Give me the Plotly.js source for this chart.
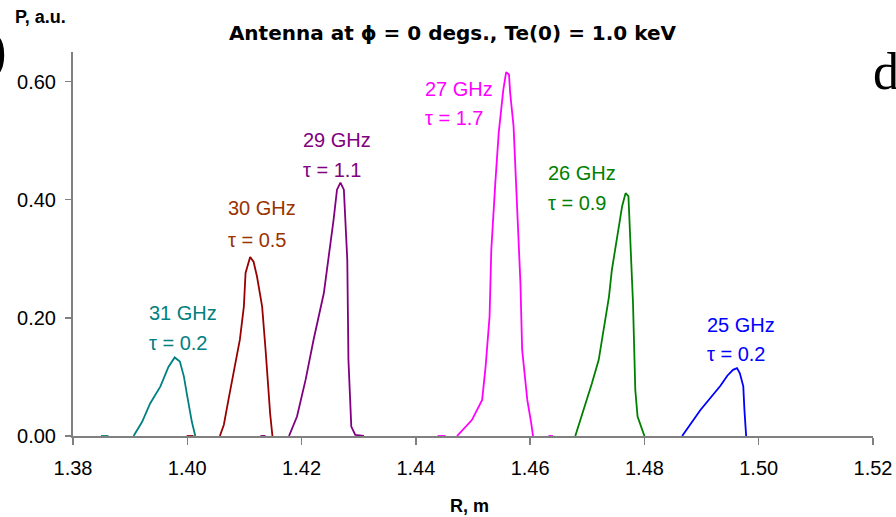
<!DOCTYPE html>
<html>
<head>
<meta charset="utf-8">
<script src="https://cdn.plot.ly/plotly-3.0.1.min.js"></script>
<style>html,body{margin:0;padding:0;background:#fff;}#chart{width:896px;height:517px;}</style>
</head>
<body>
<div id="chart"></div>
<script>
// R, m  (null = gap in the drawn line)
const R31 = [1.3849, 1.3862, null, 1.3906, 1.3921, 1.3935, 1.3953, 1.3967, 1.3978, 1.3987, 1.3994, 1.4000, 1.4008, 1.4014];
const P31 = [0, 0, null, 0, 0.024, 0.055, 0.084, 0.117, 0.133, 0.126, 0.101, 0.067, 0.024, 0];

const R30 = [1.3999, 1.4011, null, 1.4057, 1.4064, 1.4072, 1.4081, 1.4092, 1.4099, 1.4102, 1.4110, 1.4116, 1.4122, 1.4131, 1.4137, 1.4141, 1.4145, 1.4149];
const P30 = [0, 0, null, 0, 0.019, 0.061, 0.106, 0.163, 0.219, 0.276, 0.303, 0.295, 0.270, 0.219, 0.146, 0.089, 0.038, 0];

const R29 = [1.4128, 1.4137, null, 1.4178, 1.4192, 1.4207, 1.4221, 1.4239, 1.4250, 1.4256, 1.4262, 1.4268, 1.4274, 1.4277, 1.4280, 1.4281, 1.4282, 1.4287, 1.4294, 1.4309];
const P29 = [0, 0, null, 0, 0.033, 0.095, 0.163, 0.242, 0.321, 0.366, 0.417, 0.429, 0.417, 0.355, 0.298, 0.214, 0.129, 0.016, 0.002, 0];

const R27 = [1.4438, 1.4452, null, 1.4472, 1.4498, 1.4516, 1.4522, 1.4529, 1.4532, 1.4539, 1.4545, 1.4553, 1.4558, 1.4563, 1.4565, 1.4571, 1.4577, 1.4583, 1.4586, 1.4595, 1.4602, 1.4605, null, 1.4632, 1.4640];
const P27 = [0, 0, null, 0, 0.027, 0.061, 0.117, 0.202, 0.315, 0.428, 0.513, 0.586, 0.616, 0.612, 0.581, 0.524, 0.400, 0.259, 0.146, 0.061, 0.021, 0, null, 0, 0];

const R26 = [1.4679, 1.4694, 1.4708, 1.4720, 1.4729, 1.4738, 1.4743, 1.4752, 1.4761, 1.4767, 1.4772, 1.4775, 1.4780, 1.4784, 1.4788, 1.4800];
const P26 = [0, 0.044, 0.089, 0.129, 0.180, 0.236, 0.281, 0.332, 0.389, 0.411, 0.406, 0.338, 0.225, 0.078, 0.033, 0];

const R25 = [1.4866, 1.4898, 1.4933, 1.4945, 1.4955, 1.4962, 1.4967, 1.4973, 1.4975, 1.4978];
const P25 = [0, 0.044, 0.085, 0.102, 0.112, 0.115, 0.106, 0.084, 0.044, 0];

const freqLabels = ["31 GHz", "30 GHz", "29 GHz", "27 GHz", "26 GHz", "25 GHz"];
const tauLabels = ["τ = 0.2", "τ = 0.5", "τ = 1.1", "τ = 1.7", "τ = 0.9", "τ = 0.2"];
const xTicks = [1.38, 1.40, 1.42, 1.44, 1.46, 1.48, 1.50, 1.52];
const yTicks = [0, 0.2, 0.4, 0.6];

const series = [
  {x: R31, y: P31, line: "#008080", text: "#008080", lx: 1.3931, ly1: 0.2085, ly2: 0.1576},
  {x: R30, y: P30, line: "#990000", text: "#993300", lx: 1.4070, ly1: 0.3864, ly2: 0.3322},
  {x: R29, y: P29, line: "#800080", text: "#800080", lx: 1.4201, ly1: 0.5017, ly2: 0.4508},
  {x: R27, y: P27, line: "#FF00FF", text: "#FF00FF", lx: 1.4415, ly1: 0.5873, ly2: 0.5390},
  {x: R26, y: P26, line: "#008000", text: "#008000", lx: 1.4630, ly1: 0.4458, ly2: 0.3949},
  {x: R25, y: P25, line: "#0000FF", text: "#0000FF", lx: 1.4907, ly1: 0.1881, ly2: 0.1390}
];

const FONT = "Liberation Sans, Arial, Helvetica, sans-serif";
const traces = series.map(s => ({
  type: "scatter", mode: "lines", x: s.x, y: s.y,
  line: {color: s.line, width: 1.8}, connectgaps: false, showlegend: false, hoverinfo: "none"
}));

const annotations = [];
series.forEach((s, i) => {
  annotations.push({x: s.lx, y: s.ly1, xref: "x", yref: "y", text: freqLabels[i], showarrow: false,
    xanchor: "left", yanchor: "middle", font: {family: FONT, size: 20, color: s.text}, borderpad: 0});
  annotations.push({x: s.lx, y: s.ly2, xref: "x", yref: "y", text: tauLabels[i], showarrow: false,
    xanchor: "left", yanchor: "middle", font: {family: FONT, size: 20, color: s.text}, borderpad: 0});
});
annotations.push({x: -0.041, y: 1.091, xref: "paper", yref: "paper", text: "<b>P, a.u.</b>", showarrow: false,
  xanchor: "center", yanchor: "middle", font: {family: FONT, size: 18, color: "#000"}});
annotations.push({x: 0.496, y: -0.182, xref: "paper", yref: "paper", text: "<b>R, m</b>", showarrow: false,
  xanchor: "center", yanchor: "middle", font: {family: FONT, size: 18, color: "#000"}});
annotations.push({x: -0.081, y: 1.005, xref: "paper", yref: "paper", text: ")", showarrow: false,
  xanchor: "right", yanchor: "middle", borderpad: 0, font: {family: "Liberation Serif, Times New Roman, serif", size: 56, color: "#000"}});
annotations.push({x: 0.999, y: 0.95, xref: "paper", yref: "paper", text: "d", showarrow: false,
  xanchor: "left", yanchor: "middle", borderpad: 0, font: {family: "Liberation Serif, Times New Roman, serif", size: 52, color: "#000"}});

const layout = {
  width: 896, height: 517, autosize: false,
  margin: {l: 73, r: 23, t: 52, b: 81, pad: 0},
  paper_bgcolor: "#fff", plot_bgcolor: "#fff",
  showlegend: false,
  title: {text: "<b>Antenna at ϕ = 0 degs., Te(0) = 1.0 keV</b>", x: 0.505, xref: "container", xanchor: "center",
    y: 0.936, yref: "container", yanchor: "middle", font: {family: "DejaVu Sans, Verdana, sans-serif", size: 20, color: "#000"}},
  xaxis: {range: [1.38, 1.52], tickvals: xTicks, ticktext: xTicks.map(v => v.toFixed(2)),
    showgrid: false, zeroline: false, showline: true, linecolor: "#808080", linewidth: 2, layer: "below traces",
    ticks: "outside", ticklen: 7, tickcolor: "#808080", tickwidth: 1.5, ticklabelstandoff: 6,
    tickfont: {family: FONT, size: 20, color: "#000"}, fixedrange: true},
  yaxis: {range: [0, 0.65], tickvals: yTicks, ticktext: yTicks.map(v => v.toFixed(2)),
    showgrid: false, zeroline: false, showline: true, linecolor: "#808080", linewidth: 2, layer: "below traces",
    ticks: "outside", ticklen: 6, tickcolor: "#808080", tickwidth: 1.5, ticklabelstandoff: 5,
    tickfont: {family: FONT, size: 20, color: "#000"}, fixedrange: true},
  annotations: annotations
};

Plotly.newPlot("chart", traces, layout, {staticPlot: true, displayModeBar: false});
</script>
</body>
</html>
